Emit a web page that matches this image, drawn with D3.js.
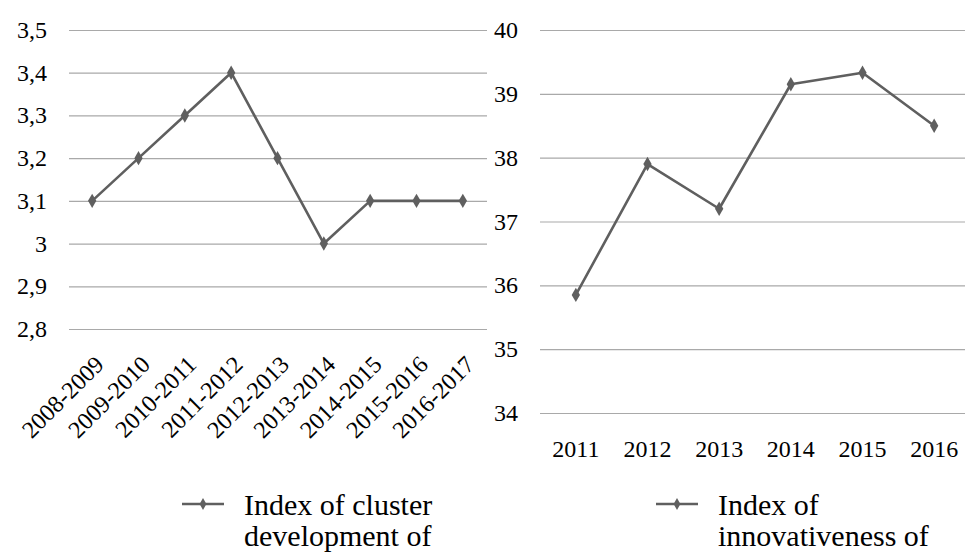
<!DOCTYPE html>
<html>
<head>
<meta charset="utf-8">
<script src="https://cdn.jsdelivr.net/npm/d3@7"></script>
<style>
  body { margin: 0; background: #fff; }
</style>
</head>
<body>
<svg id="chart"></svg>
<script>
// left chart: cluster development index
const periods = ['2008-2009', '2009-2010', '2010-2011', '2011-2012', '2012-2013',
  '2013-2014', '2014-2015', '2015-2016', '2016-2017'];
const clusterValues = [3.1, 3.2, 3.3, 3.4, 3.2, 3.0, 3.1, 3.1, 3.1];
const clusterTicks = [2.8, 2.9, 3.0, 3.1, 3.2, 3.3, 3.4, 3.5];
const clusterLegend = ['Index of cluster', 'development of'];

// right chart: innovativeness index
const years = ['2011', '2012', '2013', '2014', '2015', '2016'];
const innovValues = [35.85, 37.9, 37.2, 39.15, 39.33, 38.5];
const innovTicks = [34, 35, 36, 37, 38, 39, 40];
const innovLegend = ['Index of', 'innovativeness of'];

const width = 965;
const height = 554;
const lineColor = '#5f5f5f';
const gridColor = '#a9a9a9';
const fontStack = '"Liberation Serif", Tinos, Times, monospace';

const svg = d3.select('#chart')
  .attr('width', width)
  .attr('height', height);

const commaFmt = d3.formatLocale({decimal: ',', thousands: ' ', grouping: [3], currency: ['', '']}).format('~g');

const diamond = d3.symbol().type(d3.symbolDiamond).size(60);

function addText(parent, txt, x, y, size, anchor) {
  return parent.append('text')
    .attr('x', x)
    .attr('y', y)
    .attr('font-size', size)
    .attr('text-anchor', anchor)
    .attr('fill', '#000')
    .style('font-family', fontStack)
    .text(txt);
}

function drawPanel(opts) {
  const x = d3.scalePoint()
    .domain(opts.categories)
    .range([opts.x0, opts.x1])
    .padding(0.5);
  const y = d3.scaleLinear()
    .domain(d3.extent(opts.ticks))
    .range([opts.yBottom, opts.yTop]);

  // gridlines from the axis, labels drawn as plain text
  const yAxis = svg.append('g')
    .attr('transform', `translate(${opts.x0}, 0)`)
    .call(d3.axisLeft(y)
      .tickValues(opts.ticks)
      .tickSize(-(opts.gridEnd - opts.x0))
      .tickFormat(''));
  yAxis.select('.domain').remove();
  yAxis.selectAll('line')
    .attr('stroke', gridColor)
    .attr('stroke-width', 1.2);

  opts.ticks.forEach(t => {
    addText(svg, commaFmt(t), opts.labelRight, y(t) + 8, 24, 'end');
  });

  opts.categories.forEach(c => {
    if (opts.rotate) {
      addText(svg, c, 0, 0, 24, 'end')
        .attr('transform', `translate(${x(c) + 13}, ${opts.yBottom + opts.rotY}) rotate(-45)`);
    } else {
      addText(svg, c, x(c), opts.yBottom + opts.xLabelY, 24, 'middle');
    }
  });

  const line = d3.line()
    .x((d, i) => x(opts.categories[i]))
    .y(d => y(d));

  svg.append('path')
    .datum(opts.values)
    .attr('fill', 'none')
    .attr('stroke', lineColor)
    .attr('stroke-width', 2.6)
    .attr('stroke-linejoin', 'round')
    .attr('d', line);

  svg.append('g')
    .selectAll('path')
    .data(opts.values)
    .join('path')
    .attr('d', diamond)
    .attr('fill', lineColor)
    .attr('transform', (d, i) => `translate(${x(opts.categories[i])}, ${y(d)})`);

  // legend
  const lg = svg.append('g')
    .attr('transform', `translate(${opts.legendX}, 504)`);
  lg.append('line')
    .attr('x1', 0).attr('x2', 42)
    .attr('stroke', lineColor)
    .attr('stroke-width', 2.6);
  lg.append('path')
    .attr('d', d3.symbol().type(d3.symbolDiamond).size(40))
    .attr('fill', lineColor)
    .attr('transform', 'translate(21, 0)');
  opts.legend.forEach((t, i) => {
    addText(lg, t, 62, 11 + i * 31, 30, 'start');
  });
}

drawPanel({
  categories: periods,
  values: clusterValues,
  ticks: clusterTicks,
  x0: 69, x1: 486, gridEnd: 487,
  labelRight: 47,
  yTop: 30, yBottom: 329,
  rotate: true, rotY: 37,
  legend: clusterLegend,
  legendX: 182
});

drawPanel({
  categories: years,
  values: innovValues,
  ticks: innovTicks,
  x0: 540, x1: 970, gridEnd: 965,
  labelRight: 518,
  yTop: 30, yBottom: 413,
  rotate: false, xLabelY: 44,
  legend: innovLegend,
  legendX: 656
});
</script>
</body>
</html>
